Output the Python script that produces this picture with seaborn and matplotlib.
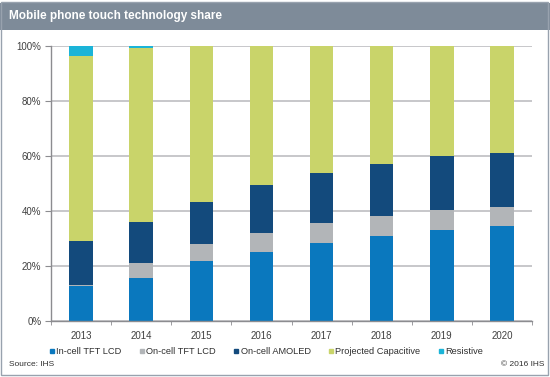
import matplotlib
matplotlib.use("Agg")
import matplotlib.pyplot as plt
import seaborn as sns
import numpy as np
from matplotlib.patches import Rectangle

years = ["2013", "2014", "2015", "2016", "2017", "2018", "2019", "2020"]
in_cell_tft = [12.7, 15.7, 21.8, 24.9, 28.2, 31.0, 33.2, 34.6]
on_cell_tft = [0.4, 5.2, 6.2, 7.2, 7.4, 7.3, 7.0, 6.8]
on_cell_amoled = [15.8, 14.9, 15.2, 17.4, 18.2, 18.7, 19.6, 19.7]
projected_cap = [67.3, 63.5, 56.8, 50.5, 46.2, 43.0, 40.2, 38.9]
resistive = [3.8, 0.7, 0.0, 0.0, 0.0, 0.0, 0.0, 0.0]

series = [
    ("In-cell TFT LCD", in_cell_tft, "#0a78be"),
    ("On-cell TFT LCD", on_cell_tft, "#b2b5b8"),
    ("On-cell AMOLED", on_cell_amoled, "#134a7c"),
    ("Projected Capacitive", projected_cap, "#c9d46a"),
    ("Resistive", resistive, "#1bb4d8"),
]

sns.set_style("white")
plt.rcParams["font.family"] = ["Liberation Sans", "DejaVu Sans"]

fig = plt.figure(figsize=(5.5, 3.77), dpi=100)
ax = fig.add_axes([51 / 550, 1 - 321 / 377, 481 / 550, (321 - 45.7) / 377])

bottom = np.zeros(len(years))
for name, vals, col in series:
    sns.barplot(x=years, y=vals, color=col, bottom=bottom, width=0.39,
                saturation=1, linewidth=0, ax=ax, label=name)
    bottom += np.array(vals)

ax.set_xlim(-0.5, 7.5)
ax.set_ylim(0, 100)
ax.set_yticks(range(0, 101, 20))
ax.set_yticklabels([f"{v}%" for v in range(0, 101, 20)])
ax.grid(axis="y", color="#b8b8bc", linewidth=1.1)
ax.set_axisbelow(True)
for s in ["top", "right"]:
    ax.spines[s].set_visible(False)
for s in ["left", "bottom"]:
    ax.spines[s].set_color("#8c8c90")
    ax.spines[s].set_linewidth(1)
ax.tick_params(axis="y", left=True, length=4, color="#8c8c90", labelsize=7,
               labelcolor="#404040", pad=3)
ax.tick_params(axis="x", bottom=False, labelsize=7, labelcolor="#404040", pad=4)
ax.set_xticks(np.arange(-0.5, 8, 1), minor=True)
ax.tick_params(axis="x", which="minor", bottom=True, length=3, color="#8c8c90")
ax.set_xlabel("")
ax.set_ylabel("")
if ax.get_legend():
    ax.get_legend().remove()

# legend
handles = [plt.Line2D([], [], marker="s", linestyle="", markersize=3.5,
                      color=col) for _, _, col in series]
fig.legend(handles, [n for n, _, _ in series], loc="center left",
           bbox_to_anchor=(41 / 550, 1 - 352 / 377), ncol=5, frameon=False,
           fontsize=6.7, handlelength=0.6, handletextpad=0.15, columnspacing=1.9,
           labelcolor="#303030")

# title bar and frame
fig.patches.append(Rectangle((0, 1 - 30 / 377), 1, 27 / 377, transform=fig.transFigure,
                             facecolor="#7e8b99", edgecolor="none", zorder=0))
fig.patches.append(Rectangle((0.002, 0.004), 0.994, 0.99, transform=fig.transFigure,
                             facecolor="none", edgecolor="#98a2ae", linewidth=1))
fig.text(9 / 550, 1 - 16.5 / 377, "Mobile phone touch technology share", color="white",
         fontsize=8.5, fontweight="bold", va="center", ha="left")
fig.text(9 / 550, 1 - 364 / 377, "Source: IHS", fontsize=6, color="#303030",
         va="center", ha="left")
fig.text(544 / 550, 1 - 364 / 377, "\u00a9 2016 IHS", fontsize=6, color="#303030",
         va="center", ha="right")

fig.savefig("out.png", dpi=100)
